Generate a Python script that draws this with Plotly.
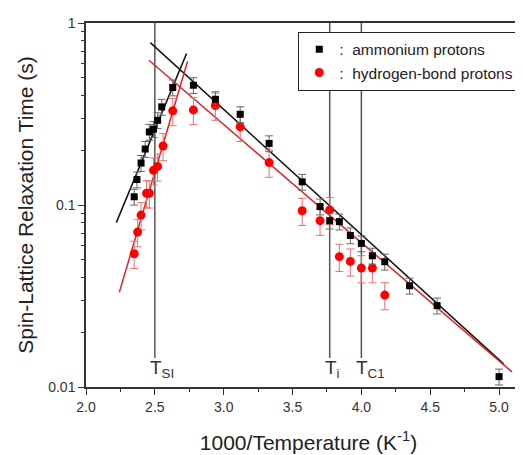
import plotly.graph_objects as go

# ammonium protons (black squares)
amm_x = [2.35, 2.37, 2.40, 2.43, 2.46, 2.49, 2.52, 2.55, 2.63, 2.78, 2.94, 3.12, 3.33,
         3.57, 3.70, 3.77, 3.84, 3.92, 4.00, 4.08, 4.17, 4.35, 4.55, 5.00]
amm_y = [0.111, 0.138, 0.170, 0.203, 0.252, 0.261, 0.292, 0.346, 0.442, 0.455, 0.381, 0.315, 0.218,
         0.134, 0.098, 0.082, 0.081, 0.068, 0.0615, 0.0526, 0.0488, 0.036, 0.028, 0.0114]

# hydrogen-bond protons (red circles)
hb_x = [2.35, 2.375, 2.40, 2.44, 2.46, 2.49, 2.52, 2.56, 2.63, 2.78, 2.94, 3.12, 3.33,
        3.57, 3.70, 3.77, 3.84, 3.92, 4.00, 4.08, 4.17]
hb_y = [0.054, 0.071, 0.088, 0.116, 0.116, 0.155, 0.163, 0.211, 0.329, 0.333, 0.352, 0.269, 0.171,
        0.093, 0.082, 0.094, 0.052, 0.049, 0.045, 0.045, 0.032]

# fitted lines (endpoints)
amm_fit_hi_x = [2.22, 2.73]
amm_fit_hi_y = [0.080, 0.679]
hb_fit_hi_x = [2.242, 2.738]
hb_fit_hi_y = [0.0331, 0.616]
amm_fit_lo_x = [2.467, 5.033]
amm_fit_lo_y = [0.780, 0.0134]
hb_fit_lo_x = [2.457, 5.094]
hb_fit_lo_y = [0.624, 0.0121]

# transition temperatures
trans_x = [2.5, 3.77, 4.0]
trans_labels = ["T<sub>SI</sub>", "T<sub>i</sub>", "T<sub>C1</sub>"]
trans_y = [1.0, 0.01445]

x_ticks = [2.0, 2.5, 3.0, 3.5, 4.0, 4.5, 5.0]
x_ticktext = ["2.0", "2.5", "3.0", "3.5", "4.0", "4.5", "5.0"]
y_ticks = [0.01, 0.1, 1]
y_ticktext = ["0.01", "0.1", "1"]

FONT = "Liberation Sans, Arial, sans-serif"
BLACK_LINE = "#111111"
RED_LINE = "#dd2222"

fig = go.Figure()

for tx in trans_x:
    fig.add_trace(go.Scatter(x=[tx, tx], y=trans_y, mode="lines",
                             line=dict(color="#555555", width=1.5),
                             showlegend=False, hoverinfo="skip"))

for xs, ys, c in [(amm_fit_hi_x, amm_fit_hi_y, BLACK_LINE), (amm_fit_lo_x, amm_fit_lo_y, BLACK_LINE),
                  (hb_fit_hi_x, hb_fit_hi_y, RED_LINE), (hb_fit_lo_x, hb_fit_lo_y, RED_LINE)]:
    fig.add_trace(go.Scatter(x=xs, y=ys, mode="lines", line=dict(color=c, width=1.5),
                             showlegend=False, hoverinfo="skip"))

fig.add_trace(go.Scatter(
    x=hb_x, y=hb_y, mode="markers", name=":\u00a0\u00a0hydrogen-bond protons",
    marker=dict(symbol="circle", size=9, color="#ff0000"),
    error_y=dict(type="percent", value=17, color="#e87070", thickness=1, width=4),
))
fig.add_trace(go.Scatter(
    x=amm_x, y=amm_y, mode="markers", name=":\u00a0\u00a0ammonium protons",
    marker=dict(symbol="square", size=7, color="#000000"),
    error_y=dict(type="percent", value=10, color="#666666", thickness=1, width=4),
))

for tx, lab in zip(trans_x, trans_labels):
    fig.add_annotation(x=tx, y=0.087, xref="x", yref="paper", text=lab, showarrow=False,
                       xanchor="left", yanchor="top", xshift=-7,
                       font=dict(family=FONT, size=19, color="#333333"))

fig.update_layout(
    width=523, height=455,
    margin=dict(l=78, r=0, t=15, b=76),
    paper_bgcolor="white", plot_bgcolor="white",
    font=dict(family=FONT, color="#333333"),
    showlegend=True,
    legend=dict(x=0.477, y=0.976, xanchor="left", yanchor="top",
                bgcolor="white", bordercolor="#222222", borderwidth=1,
                font=dict(family=FONT, size=15.5, color="#222222"),
                traceorder="reversed"),
    xaxis=dict(range=[2.0, 5.232], tickvals=x_ticks, ticktext=x_ticktext,
               ticks="outside", ticklen=6, tickwidth=1.2, tickcolor="#333333",
               showline=True, linecolor="#333333", linewidth=1.5, mirror=True,
               showgrid=False, zeroline=False,
               tickfont=dict(family=FONT, size=14, color="#333333"),
               minor=dict(dtick=0.25, ticks="outside", ticklen=3, tickcolor="#333333", showgrid=False),
               title=dict(text="1000/Temperature (K<sup>-1</sup>)",
                          font=dict(family=FONT, size=21, color="#222222"), standoff=22)),
    yaxis=dict(type="log", range=[-2, 0], tickvals=y_ticks, ticktext=y_ticktext,
               ticks="outside", ticklen=6, tickwidth=1.2, tickcolor="#333333",
               showline=True, linecolor="#333333", linewidth=1.5, mirror=False,
               showgrid=False, zeroline=False,
               tickfont=dict(family=FONT, size=14, color="#333333"),
               minor=dict(dtick="D1", ticks="outside", ticklen=3, tickcolor="#333333", showgrid=False),
               title=dict(text="Spin-Lattice Relaxation Time (s)",
                          font=dict(family=FONT, size=21, color="#222222"), standoff=9)),
)

fig.write_html("out.html")
